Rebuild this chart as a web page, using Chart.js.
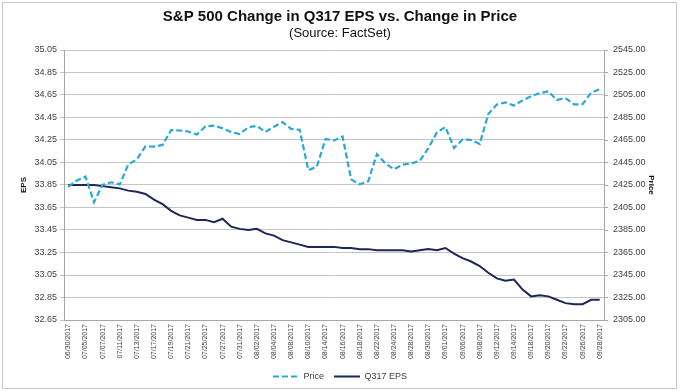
<!DOCTYPE html>
<html>
<head>
<meta charset="utf-8">
<script src="https://cdn.jsdelivr.net/npm/chart.js@4/dist/chart.umd.min.js"></script>
<style>
    body { margin: 0; background: #fff; }
    #wrap { position: relative; width: 680px; height: 391px; }
    #frame { position: absolute; left: 2px; top: 2px; right: 3px; bottom: 2px; border: 1px solid #c8c8c8; pointer-events: none; }
</style>
</head>
<body>
<div id="wrap">
    <canvas id="myChart" width="680" height="391"></canvas>
    <div id="frame"></div>
</div>
<script>
// trading days, labels shown on every other one
const dates = [
    '06/30/2017', '07/03/2017', '07/05/2017', '07/06/2017', '07/07/2017', '07/10/2017', '07/11/2017',
    '07/12/2017', '07/13/2017', '07/14/2017', '07/17/2017', '07/18/2017', '07/19/2017', '07/20/2017',
    '07/21/2017', '07/24/2017', '07/25/2017', '07/26/2017', '07/27/2017', '07/28/2017', '07/31/2017',
    '08/01/2017', '08/02/2017', '08/03/2017', '08/04/2017', '08/07/2017', '08/08/2017', '08/09/2017',
    '08/10/2017', '08/11/2017', '08/14/2017', '08/15/2017', '08/16/2017', '08/17/2017', '08/18/2017',
    '08/21/2017', '08/22/2017', '08/23/2017', '08/24/2017', '08/25/2017', '08/28/2017', '08/29/2017',
    '08/30/2017', '08/31/2017', '09/01/2017', '09/05/2017', '09/06/2017', '09/07/2017', '09/08/2017',
    '09/11/2017', '09/12/2017', '09/13/2017', '09/14/2017', '09/15/2017', '09/18/2017', '09/19/2017',
    '09/20/2017', '09/21/2017', '09/22/2017', '09/25/2017', '09/26/2017', '09/27/2017', '09/28/2017'
];

const price = [
    2423.41, 2429.01, 2432.54, 2409.75, 2425.18, 2427.43, 2425.53,
    2443.25, 2447.83, 2459.27, 2459.14, 2460.61, 2473.83, 2473.45,
    2472.54, 2469.91, 2477.13, 2477.83, 2475.42, 2472.10, 2470.30,
    2476.35, 2477.57, 2472.16, 2476.83, 2480.91, 2474.92, 2474.02,
    2438.21, 2441.32, 2465.84, 2464.61, 2468.11, 2430.01, 2425.55,
    2428.37, 2452.51, 2444.04, 2438.97, 2443.05, 2444.24, 2446.30,
    2457.59, 2471.65, 2476.55, 2457.85, 2465.54, 2465.10, 2461.43,
    2488.11, 2496.48, 2498.37, 2495.62, 2500.23, 2503.87, 2506.65,
    2508.24, 2500.60, 2502.22, 2496.66, 2496.84, 2507.04, 2510.06
];

const eps = [
    33.85, 33.85, 33.85, 33.85, 33.84, 33.83, 33.82,
    33.80, 33.79, 33.77, 33.72, 33.68, 33.62, 33.58,
    33.56, 33.54, 33.54, 33.52, 33.55, 33.48, 33.46,
    33.45, 33.46, 33.42, 33.40, 33.36, 33.34, 33.32,
    33.30, 33.30, 33.30, 33.30, 33.29, 33.29, 33.28,
    33.28, 33.27, 33.27, 33.27, 33.27, 33.26, 33.27,
    33.28, 33.27, 33.29, 33.24, 33.20, 33.17, 33.13,
    33.07, 33.02, 33.00, 33.01, 32.92, 32.86, 32.87,
    32.86, 32.83, 32.80, 32.79, 32.79, 32.83, 32.83
];

const epsTicks = [32.65, 32.85, 33.05, 33.25, 33.45, 33.65, 33.85, 34.05, 34.25, 34.45, 34.65, 34.85, 35.05];
const priceTicks = [2305, 2325, 2345, 2365, 2385, 2405, 2425, 2445, 2465, 2485, 2505, 2525, 2545];

const FONT = "'Liberation Sans', Arial, sans-serif";
const TXT = '#404040';

let ctx = document.getElementById('myChart').getContext('2d');
new Chart(ctx, {
    type: 'line',
    data: {
        labels: dates,
        datasets: [{
            label: 'Price',
            data: price,
            yAxisID: 'y1',
            borderColor: '#2aa7d9',
            backgroundColor: '#2aa7d9',
            borderWidth: 2.2,
            borderDash: [6, 3],
            pointRadius: 0,
            tension: 0
        }, {
            label: 'Q317 EPS',
            data: eps,
            yAxisID: 'y',
            borderColor: '#1d2656',
            backgroundColor: '#1d2656',
            borderWidth: 2,
            pointRadius: 0,
            tension: 0
        }]
    },
    options: {
        responsive: false,
        animation: false,
        devicePixelRatio: 1,
        layout: { padding: 0 },
        plugins: {
            title: {
                display: true,
                text: 'S&P 500 Change in Q317 EPS vs. Change in Price',
                color: '#111',
                font: { family: FONT, size: 15, weight: 'bold' },
                padding: { top: 8, bottom: 0 }
            },
            subtitle: {
                display: true,
                text: '(Source: FactSet)',
                color: '#111',
                font: { family: FONT, size: 13 },
                padding: { top: 0, bottom: 8.4 }
            },
            legend: {
                position: 'bottom',
                labels: {
                    usePointStyle: true,
                    pointStyle: 'line',
                    pointStyleWidth: 26,
                    color: TXT,
                    padding: 10,
                    font: { family: FONT, size: 9 },
                    // keep the dashed look of the Price line in the legend
                    generateLabels: chart => Chart.defaults.plugins.legend.labels.generateLabels(chart).map(item => {
                        item.lineDash = chart.data.datasets[item.datasetIndex].borderDash || [];
                        return item;
                    })
                }
            },
            tooltip: { enabled: false }
        },
        scales: {
            x: {
                offset: true,
                afterFit: s => { s.height = 42; },
                grid: { display: false, drawTicks: false, tickLength: 0 },
                border: { display: true, color: '#a6a6a6' },
                ticks: {
                    autoSkip: false,
                    minRotation: 90,
                    maxRotation: 90,
                    padding: 4,
                    color: TXT,
                    font: { family: FONT, size: 7 },
                    callback: function (v, i) { return i % 2 === 0 ? this.getLabelForValue(v) : ''; }
                }
            },
            y: {
                position: 'left',
                min: 32.65,
                max: 35.05,
                afterFit: s => { s.width = 64; },
                afterBuildTicks: s => { s.ticks = epsTicks.map(v => ({ value: v })); },
                grid: { color: '#c4c4c4', tickLength: 4 },
                border: { color: '#a6a6a6' },
                ticks: {
                    padding: 3,
                    color: TXT,
                    font: { family: FONT, size: 9 },
                    callback: v => v.toFixed(2)
                },
                title: {
                    display: true,
                    text: 'EPS',
                    color: '#111',
                    font: { family: FONT, size: 8, weight: 'bold' },
                    padding: { top: 19, bottom: 0 }
                }
            },
            y1: {
                position: 'right',
                min: 2305,
                max: 2545,
                afterFit: s => { s.width = 76; },
                afterBuildTicks: s => { s.ticks = priceTicks.map(v => ({ value: v })); },
                grid: { drawOnChartArea: false, color: '#a6a6a6', tickLength: 4 },
                border: { color: '#a6a6a6' },
                ticks: {
                    padding: 5,
                    color: TXT,
                    font: { family: FONT, size: 9 },
                    callback: v => v.toFixed(2)
                },
                title: {
                    display: true,
                    text: 'Price',
                    color: '#111',
                    font: { family: FONT, size: 8, weight: 'bold' },
                    padding: { top: 24, bottom: 0 }
                }
            }
        }
    }
});
</script>
</body>
</html>
